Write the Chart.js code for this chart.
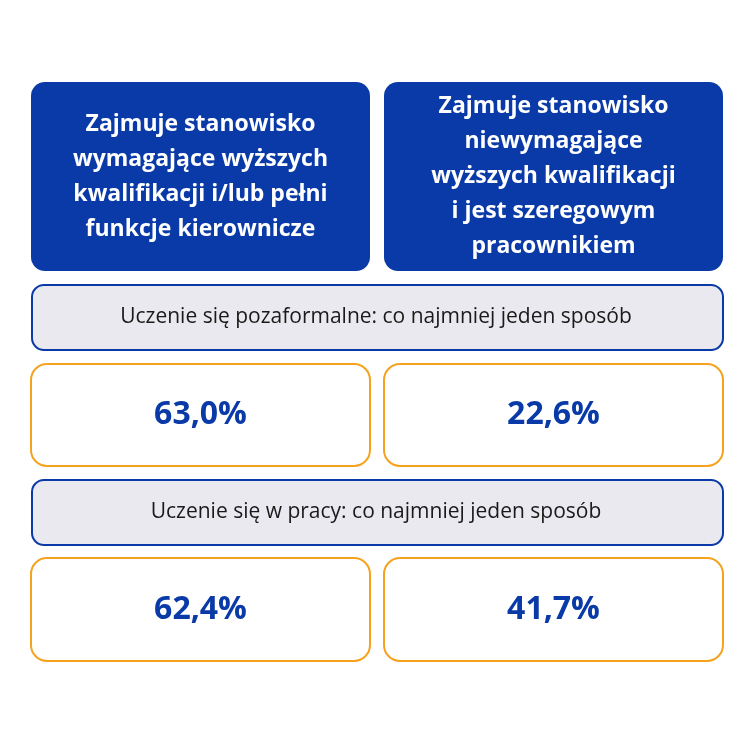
<!DOCTYPE html>
<html lang="pl">
<head>
  <meta charset="UTF-8">
  <title>Uczenie się a stanowisko</title>
  <script src="https://cdn.jsdelivr.net/npm/chart.js"></script>
  <style>
    html, body { margin: 0; padding: 0; background: #fff; }
    canvas { display: block; }
  </style>
</head>
<body>
  <canvas id="board" width="750" height="750"></canvas>

  <script>
    const groups = [
      ['Zajmuje stanowisko', 'wymagające wyższych', 'kwalifikacji i/lub pełni', 'funkcje kierownicze'],
      ['Zajmuje stanowisko', 'niewymagające', 'wyższych kwalifikacji', 'i jest szeregowym', 'pracownikiem']
    ];
    const measures = [
      'Uczenie się pozaformalne: co najmniej jeden sposób',
      'Uczenie się w pracy: co najmniej jeden sposób'
    ];
    const managers = [63.0, 62.4];
    const staff = [22.6, 41.7];

    const BLUE = '#0a3aa7';
    const ORANGE = '#f5a21e';

    function rr(ctx, x, y, w, h, r, fill, stroke, lw) {
      ctx.beginPath();
      ctx.roundRect(x, y, w, h, r);
      if (fill) { ctx.fillStyle = fill; ctx.fill(); }
      if (stroke) { ctx.strokeStyle = stroke; ctx.lineWidth = lw; ctx.stroke(); }
    }

    const boardPlugin = {
      id: 'board',
      afterDatasetsDraw(chart) {
        const ctx = chart.ctx;
        const sx = chart.scales.x, sy = chart.scales.y;
        const px = v => sx.getPixelForValue(v);
        const py = v => sy.getPixelForValue(v);
        ctx.save();
        ctx.textAlign = 'center';
        ctx.textBaseline = 'middle';

        // headers
        [[31, 370], [384, 723]].forEach(([a, b], i) => {
          rr(ctx, px(a), py(82), px(b) - px(a), py(271) - py(82), 14, BLUE);
          const lines = groups[i];
          const lh = 35;
          const mid = (py(82) + py(271)) / 2;
          ctx.fillStyle = '#fff';
          ctx.font = 'bold 23px "Open Sans", sans-serif';
          lines.forEach((t, k) => ctx.fillText(t, (px(a) + px(b)) / 2, mid + (k - (lines.length - 1) / 2) * lh));
        });

        // sections and value boxes
        const rows = [[285, 350, 364, 466], [480, 545, 558, 661]];
        rows.forEach(([s0, s1, v0, v1], i) => {
          rr(ctx, px(32), py(s0), px(723) - px(32), py(s1) - py(s0), 12, '#e9e9ef', BLUE, 2);
          ctx.fillStyle = '#1a1a1a';
          ctx.font = '21px "Open Sans", sans-serif';
          ctx.fillText(measures[i], px(376), (py(s0) + py(s1)) / 2);
          [[31, 370, managers[i]], [384, 723, staff[i]]].forEach(([a, b, v]) => {
            rr(ctx, px(a), py(v0), px(b) - px(a), py(v1) - py(v0), 16, '#fff', ORANGE, 2);
            ctx.fillStyle = BLUE;
            ctx.font = 'bold 32px "Open Sans", sans-serif';
            ctx.fillText(v.toFixed(1).replace('.', ',') + '%', (px(a) + px(b)) / 2, (py(v0) + py(v1)) / 2);
          });
        });
        ctx.restore();
      }
    };

    new Chart(document.getElementById('board'), {
      type: 'scatter',
      data: { datasets: [{ data: [], pointRadius: 0 }] },
      options: {
        responsive: false,
        animation: false,
        layout: { padding: 0 },
        plugins: { legend: { display: false }, tooltip: { enabled: false } },
        scales: {
          x: { type: 'linear', min: 0, max: 750, display: false },
          y: { type: 'linear', min: 0, max: 750, reverse: true, display: false }
        }
      },
      plugins: [boardPlugin]
    });
  </script>
</body>
</html>
